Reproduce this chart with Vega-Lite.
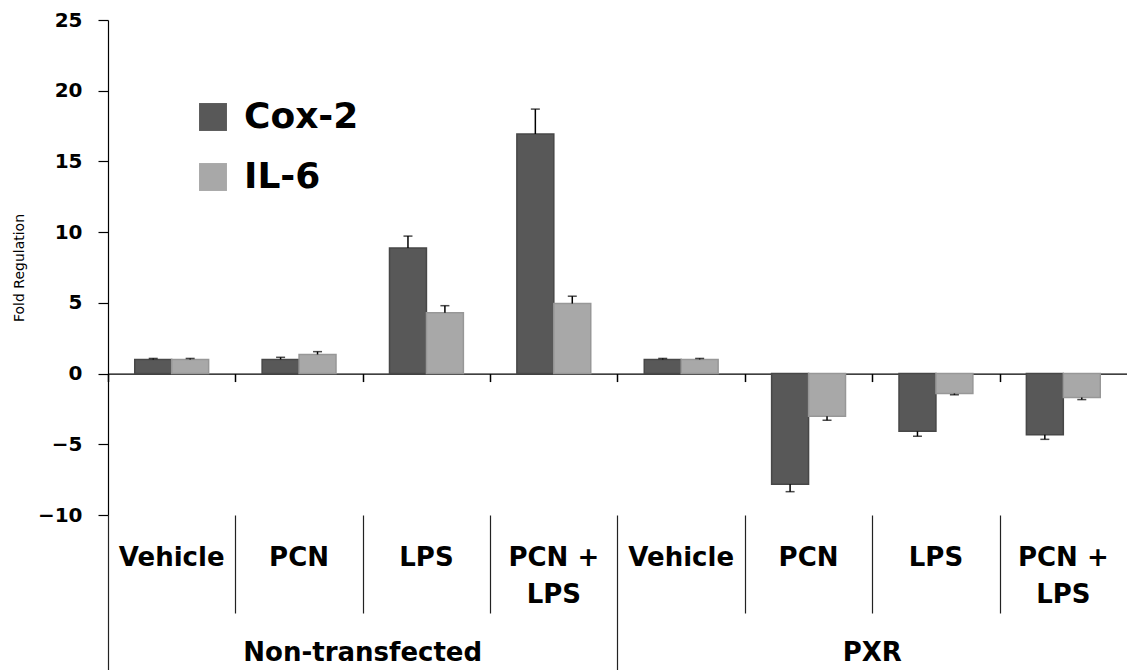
{
  "$schema": "https://vega.github.io/schema/vega-lite/v6.json",
  "width": 1019,
  "height": 495,
  "autosize": {"type": "none"},
  "padding": {"left": 108, "top": 20, "right": 0, "bottom": 155},
  "background": "white",
  "config": {"view": {"stroke": null}, "axis": {"grid": false}},
  "data": {
    "values": [
      {"cond": "NT-Vehicle", "group": "Non-transfected", "treatment": "Vehicle", "gene": "Cox-2", "value": 1.0, "errEnd": 1.07},
      {"cond": "NT-Vehicle", "group": "Non-transfected", "treatment": "Vehicle", "gene": "IL-6", "value": 1.0, "errEnd": 1.07},
      {"cond": "NT-PCN", "group": "Non-transfected", "treatment": "PCN", "gene": "Cox-2", "value": 1.0, "errEnd": 1.15},
      {"cond": "NT-PCN", "group": "Non-transfected", "treatment": "PCN", "gene": "IL-6", "value": 1.35, "errEnd": 1.55},
      {"cond": "NT-LPS", "group": "Non-transfected", "treatment": "LPS", "gene": "Cox-2", "value": 8.88, "errEnd": 9.72},
      {"cond": "NT-LPS", "group": "Non-transfected", "treatment": "LPS", "gene": "IL-6", "value": 4.3, "errEnd": 4.8},
      {"cond": "NT-PCN+LPS", "group": "Non-transfected", "treatment": "PCN + LPS", "gene": "Cox-2", "value": 16.94, "errEnd": 18.7},
      {"cond": "NT-PCN+LPS", "group": "Non-transfected", "treatment": "PCN + LPS", "gene": "IL-6", "value": 4.95, "errEnd": 5.47},
      {"cond": "PXR-Vehicle", "group": "PXR", "treatment": "Vehicle", "gene": "Cox-2", "value": 1.0, "errEnd": 1.07},
      {"cond": "PXR-Vehicle", "group": "PXR", "treatment": "Vehicle", "gene": "IL-6", "value": 1.0, "errEnd": 1.07},
      {"cond": "PXR-PCN", "group": "PXR", "treatment": "PCN", "gene": "Cox-2", "value": -7.83, "errEnd": -8.35},
      {"cond": "PXR-PCN", "group": "PXR", "treatment": "PCN", "gene": "IL-6", "value": -3.02, "errEnd": -3.3},
      {"cond": "PXR-LPS", "group": "PXR", "treatment": "LPS", "gene": "Cox-2", "value": -4.08, "errEnd": -4.43},
      {"cond": "PXR-LPS", "group": "PXR", "treatment": "LPS", "gene": "IL-6", "value": -1.41, "errEnd": -1.5},
      {"cond": "PXR-PCN+LPS", "group": "PXR", "treatment": "PCN + LPS", "gene": "Cox-2", "value": -4.32, "errEnd": -4.65},
      {"cond": "PXR-PCN+LPS", "group": "PXR", "treatment": "PCN + LPS", "gene": "IL-6", "value": -1.7, "errEnd": -1.84}
    ]
  },
  "resolve": {"axis": {"x": "independent"}},
  "layer": [
    {
      "mark": {"type": "bar", "strokeWidth": 1.5},
      "encoding": {
        "x": {
          "field": "cond", "type": "nominal",
          "sort": ["NT-Vehicle", "NT-PCN", "NT-LPS", "NT-PCN+LPS", "PXR-Vehicle", "PXR-PCN", "PXR-LPS", "PXR-PCN+LPS"],
          "scale": {"paddingInner": 0.42, "paddingOuter": 0.21},
          "axis": {
            "orient": "bottom", "offset": -141.43, "title": null,
            "domain": true, "domainColor": "black", "domainWidth": 1.2,
            "ticks": true, "bandPosition": 0.5, "tickOffset": -63.69, "tickSize": 8, "tickColor": "black", "tickWidth": 1.5,
            "labels": false
          }
        },
        "xOffset": {"field": "gene", "type": "nominal", "sort": ["Cox-2", "IL-6"], "scale": {"paddingInner": 0, "paddingOuter": 0}},
        "y": {
          "field": "value", "type": "quantitative",
          "scale": {"domain": [-10, 25], "nice": false, "zero": false},
          "axis": {
            "title": "Fold Regulation", "titleFont": "DejaVu Sans", "titleFontSize": 14, "titleFontWeight": "normal", "titleColor": "black", "titlePadding": 11,
            "values": [-10, -5, 0, 5, 10, 15, 20, 25],
            "labelFont": "DejaVu Sans", "labelFontWeight": "bold", "labelFontSize": 20, "labelColor": "black", "labelPadding": 16,
            "tickSize": 10, "tickColor": "black", "tickWidth": 1.2,
            "domainColor": "black", "domainWidth": 1.2, "grid": false
          }
        },
        "color": {
          "field": "gene", "type": "nominal",
          "scale": {"domain": ["Cox-2", "IL-6"], "range": ["#585858", "#a8a8a8"]},
          "legend": {
            "orient": "none", "legendX": 87, "legendY": 79, "title": null, "padding": 0,
            "labelFont": "DejaVu Sans", "labelFontWeight": "bold", "labelFontSize": 36, "labelColor": "black",
            "symbolType": "square", "symbolSize": 780, "symbolStrokeWidth": 0, "symbolOpacity": 1,
            "rowPadding": 24, "labelOffset": 13
          }
        },
        "stroke": {
          "field": "gene", "type": "nominal",
          "scale": {"domain": ["Cox-2", "IL-6"], "range": ["#474747", "#979797"]},
          "legend": null
        }
      }
    },
    {
      "mark": {"type": "rule", "color": "black", "strokeWidth": 1.5},
      "encoding": {
        "x": {
          "field": "cond", "type": "nominal",
          "sort": ["NT-Vehicle", "NT-PCN", "NT-LPS", "NT-PCN+LPS", "PXR-Vehicle", "PXR-PCN", "PXR-LPS", "PXR-PCN+LPS"],
          "axis": {
            "orient": "bottom", "title": null, "domain": false, "ticks": false,
            "labelPadding": 29, "labelFont": "DejaVu Sans", "labelFontWeight": "bold", "labelFontSize": 26,
            "labelColor": "black", "labelAngle": 0, "labelBaseline": "top", "labelLineHeight": 37,
            "labelOverlap": false, "labelBound": false, "labelFlush": false, "labelLimit": 0,
            "labelExpr": "indexof(datum.value, 'PCN+LPS') >= 0 ? ['PCN +', 'LPS'] : split(datum.value, '-')[1]"
          }
        },
        "xOffset": {"field": "gene", "type": "nominal", "sort": ["Cox-2", "IL-6"]},
        "y": {
          "field": "value", "type": "quantitative",
          "axis": {
            "title": "Fold Regulation", "titleFont": "DejaVu Sans", "titleFontSize": 14, "titleFontWeight": "normal", "titleColor": "black", "titlePadding": 11,
            "values": [-10, -5, 0, 5, 10, 15, 20, 25],
            "labelFont": "DejaVu Sans", "labelFontWeight": "bold", "labelFontSize": 20, "labelColor": "black", "labelPadding": 16,
            "tickSize": 10, "tickColor": "black", "tickWidth": 1.2,
            "domainColor": "black", "domainWidth": 1.2, "grid": false
          }
        },
        "y2": {"field": "errEnd"}
      }
    },
    {
      "mark": {"type": "tick", "orient": "horizontal", "size": 9, "thickness": 1.5, "color": "black"},
      "encoding": {
        "x": {
          "field": "cond", "type": "nominal",
          "sort": ["NT-Vehicle", "NT-PCN", "NT-LPS", "NT-PCN+LPS", "PXR-Vehicle", "PXR-PCN", "PXR-LPS", "PXR-PCN+LPS"],
          "axis": {
            "orient": "bottom", "title": null, "domain": false, "labels": false,
            "ticks": true, "bandPosition": 0.5, "tickOffset": -63.69, "tickColor": "#222222", "tickWidth": 1.2,
            "tickSize": {"condition": {"test": "datum.value === 'NT-Vehicle' || datum.value === 'PXR-Vehicle'", "value": 155}, "value": 98}
          }
        },
        "xOffset": {"field": "gene", "type": "nominal", "sort": ["Cox-2", "IL-6"]},
        "y": {
          "field": "errEnd", "type": "quantitative",
          "axis": {
            "title": "Fold Regulation", "titleFont": "DejaVu Sans", "titleFontSize": 14, "titleFontWeight": "normal", "titleColor": "black", "titlePadding": 11,
            "values": [-10, -5, 0, 5, 10, 15, 20, 25],
            "labelFont": "DejaVu Sans", "labelFontWeight": "bold", "labelFontSize": 20, "labelColor": "black", "labelPadding": 16,
            "tickSize": 10, "tickColor": "black", "tickWidth": 1.2,
            "domainColor": "black", "domainWidth": 1.2, "grid": false
          }
        }
      }
    },
    {
      "mark": {"type": "point", "opacity": 0},
      "encoding": {
        "x": {
          "field": "cond", "type": "nominal",
          "sort": ["NT-Vehicle", "NT-PCN", "NT-LPS", "NT-PCN+LPS", "PXR-Vehicle", "PXR-PCN", "PXR-LPS", "PXR-PCN+LPS"],
          "axis": {
            "orient": "bottom", "title": null, "domain": false, "ticks": false,
            "labelPadding": 124, "labelOffset": -63.7, "labelFont": "DejaVu Sans", "labelFontWeight": "bold", "labelFontSize": 26,
            "labelColor": "black", "labelAngle": 0, "labelBaseline": "top",
            "labelOverlap": false, "labelBound": false, "labelFlush": false, "labelLimit": 0,
            "labelExpr": "datum.value === 'NT-LPS' ? 'Non-transfected' : (datum.value === 'PXR-LPS' ? 'PXR' : '')"
          }
        },
        "y": {
          "field": "value", "type": "quantitative",
          "axis": {
            "title": "Fold Regulation", "titleFont": "DejaVu Sans", "titleFontSize": 14, "titleFontWeight": "normal", "titleColor": "black", "titlePadding": 11,
            "values": [-10, -5, 0, 5, 10, 15, 20, 25],
            "labelFont": "DejaVu Sans", "labelFontWeight": "bold", "labelFontSize": 20, "labelColor": "black", "labelPadding": 16,
            "tickSize": 10, "tickColor": "black", "tickWidth": 1.2,
            "domainColor": "black", "domainWidth": 1.2, "grid": false
          }
        }
      }
    }
  ]
}
